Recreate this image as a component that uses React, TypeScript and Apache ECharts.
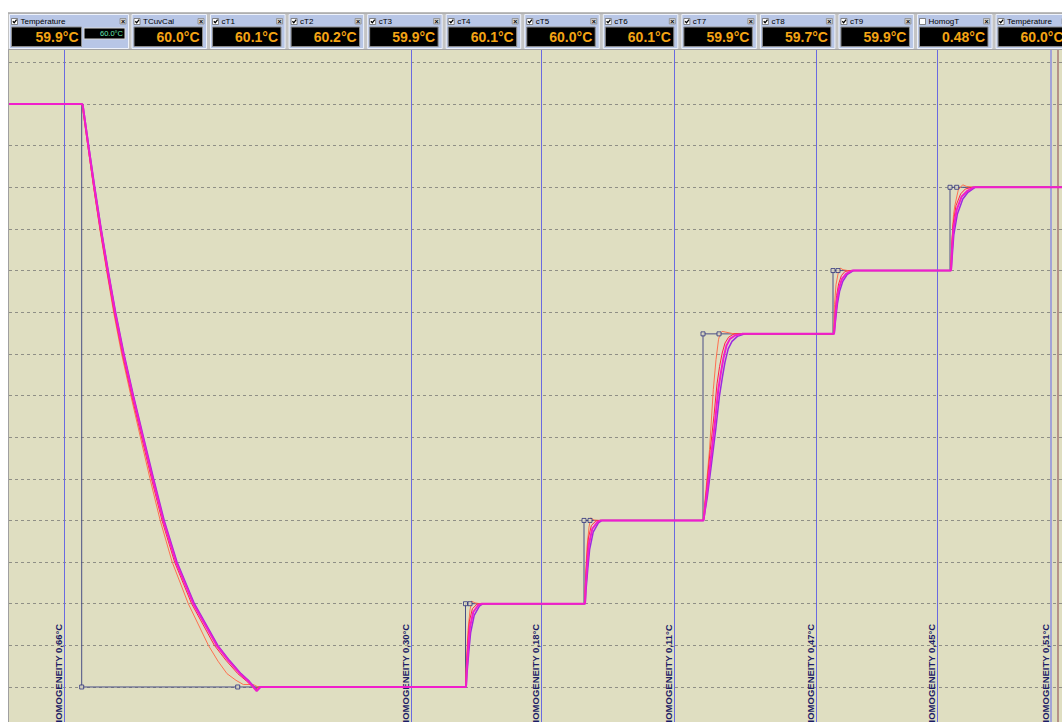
import React, { useEffect, useRef } from "react";
import * as echarts from "echarts";

const FONT = "Liberation Sans, Arial, sans-serif";

// Header panels
const panelNames = ["Température", "TCuvCal", "cT1", "cT2", "cT3", "cT4", "cT5", "cT6", "cT7", "cT8", "cT9", "HomogT", "Température"];
const panelValues = ["59.9°C", "60.0°C", "60.1°C", "60.2°C", "59.9°C", "60.1°C", "60.0°C", "60.1°C", "59.9°C", "59.7°C", "59.9°C", "0.48°C", "60.0°C"];
const panelChecked = [true, true, true, true, true, true, true, true, true, true, true, false, true];
const secondaryValue = "60.0°C";

// Time axis (minutes) and temperature axis (°C)
const xMin = 0;
const xMax = 526.5;
const yMin = -5;
const yMax = 80;
const yStep = 5;

// Homogeneity markers (time, label)
const homogTimes = [27.75, 201.25, 266.25, 332.75, 403.75, 464.25, 521];
const homogLabels = ["0,66", "0,30", "0,18", "0,11", "0,47", "0,45", "0,51"];
const cursorTime = 524.5;

// Setpoint profile
const setpoint: [number, number][] = [
  [0, 70], [36.35, 70], [36.35, 0], [114.35, 0], [228.25, 0], [228.25, 10], [230.5, 10],
  [287.5, 10], [287.5, 20], [290.5, 20], [347, 20], [347, 42.4], [355, 42.4], [412, 42.4],
  [412, 50], [414.5, 50], [470.5, 50], [470.5, 60], [473.85, 60], [526.5, 60],
];
const setpointMarks: [number, number][] = [
  [36.35, 0], [114.35, 0], [228.25, 10], [230.5, 10], [287.5, 20], [290.5, 20],
  [347, 42.4], [355, 42.4], [412, 50], [414.5, 50], [470.5, 60], [473.85, 60],
];

// Reference temperature (orange)
const temperature: [number, number][] = [
  [0, 70], [36.4, 70], [36.6, 69.8], [39.4, 65], [42.3, 60], [45.4, 55], [48.8, 50], [52.3, 45],
  [56.3, 40], [60.9, 35], [65.7, 30], [70.5, 25], [75.6, 20], [81.6, 15], [89.65, 10], [99.7, 5],
  [104.5, 3.1], [109.0, 1.6], [113.5, 0.8], [117.15, 0.3], [122.15, 0.3], [124.5, 0],
  [228.25, 0], [228.75, 3.2], [229.5, 6.8], [230.5, 9.25], [231.35, 10.3], [233, 10.1], [235.5, 10],
  [287.75, 10], [288.25, 13.2], [289, 16.8], [290, 19.2], [290.85, 20.3], [292.5, 20.05], [295, 20],
  [347, 20], [348.5, 23.7], [350.25, 28.5], [352.15, 35.7], [353.5, 39.3], [354.75, 41.7], [355.5, 42.4],
  [356.5, 42.7], [358.5, 42.6], [361.5, 42.45], [365.5, 42.4],
  [412.25, 42.4], [412.75, 45.9], [413.5, 48.3], [414.75, 49.9], [415.75, 50.3], [417, 50.1], [419.5, 50],
  [470.75, 50], [471.5, 53.7], [472.25, 56.7], [473, 57.9], [474.65, 59.7], [476.85, 60.3], [478.85, 60.1],
  [482, 60], [526.5, 60],
];

// cT1 (red)
const cT1: [number, number][] = [
  [0, 70], [36.5, 70], [36.7, 69.8], [39.4, 65], [42.35, 60], [45.5, 55], [48.95, 50], [52.6, 45],
  [56.7, 40], [61.35, 35], [66.3, 30], [71.25, 25], [76.5, 20], [82.8, 15], [91.3, 10], [102.7, 5],
  [108.5, 3.2], [114.4, 1.6], [118.8, 0.7], [123.2, -0.3], [125, 0],
  [228.4, 0], [228.7, 2.4], [229.4, 5.4], [230.2, 7.9], [231.7, 9.4], [234, 9.95], [236, 10],
  [287.9, 10], [288.2, 12.4], [288.9, 15.4], [289.7, 17.9], [291.2, 19.4], [293.5, 19.95], [295.5, 20],
  [347.2, 20], [348.8, 23.9], [350.6, 28.4], [352.5, 32.6], [354, 36.4], [355.3, 38.5], [356.6, 40.1],
  [358, 41.3], [359.8, 42.0], [362.5, 42.4],
  [412.4, 42.4], [413.1, 45.1], [413.8, 47], [414.8, 48.4], [416.2, 49.4], [418, 49.9], [421, 50],
  [470.9, 50], [471.4, 53], [472, 55.5], [473.5, 57.8], [475.8, 59.2], [478.2, 59.8], [481.5, 60], [526.5, 60],
];

// cT5 (magenta)
const cT5: [number, number][] = [
  [0, 70], [36.6, 70], [36.9, 69.8], [39.65, 65], [42.65, 60], [45.85, 55], [49.35, 50], [53.0, 45],
  [57.15, 40], [61.85, 35], [66.85, 30], [71.85, 25], [77.15, 20], [83.5, 15], [92.15, 10], [103.85, 5],
  [109.65, 3.2], [115.5, 1.6], [119.65, 0.7], [123.85, -0.5], [125.5, 0],
  [228.5, 0], [228.85, 2.0], [229.65, 4.8], [230.5, 7.2], [232.15, 9.0], [234.65, 9.85], [236.35, 10],
  [288, 10], [288.35, 12.0], [289.15, 14.8], [290, 17.2], [291.65, 19.0], [294.15, 19.8], [295.85, 20],
  [347.25, 20], [349, 23.4], [351, 27.6], [353, 31.8], [354.65, 35.7], [356, 37.8], [357.25, 39.5],
  [358.75, 41.0], [360.5, 41.8], [363, 42.2], [366.5, 42.4],
  [412.5, 42.4], [413.25, 44.7], [414, 46.5], [415, 47.9], [416.5, 49.0], [418.5, 49.6], [421.5, 50],
  [471, 50], [471.5, 52.5], [472.15, 54.9], [473.85, 57.3], [476.35, 58.9], [478.85, 59.5], [482.15, 60], [526.5, 60],
];

// cT9 (purple)
const cT9: [number, number][] = [
  [0, 70], [36.7, 70], [37.0, 69.8], [39.85, 65], [42.9, 60], [46.1, 55], [49.6, 50], [53.3, 45],
  [57.5, 40], [62.2, 35], [67.25, 30], [72.3, 25], [77.6, 20], [84.0, 15], [92.7, 10], [104.4, 5],
  [110.2, 3.2], [116.0, 1.6], [120.1, 0.7], [124.1, -0.4], [126, 0],
  [228.6, 0], [229, 1.6], [229.9, 4.2], [230.8, 6.5], [232.6, 8.6], [235.2, 9.7], [237, 10],
  [288.1, 10], [288.5, 11.6], [289.4, 14.2], [290.3, 16.5], [292.1, 18.6], [294.7, 19.7], [296.5, 20],
  [347.3, 20], [349.2, 22.9], [351.3, 26.9], [353.4, 31], [355.2, 34.9], [356.7, 37.2], [358, 39],
  [359.6, 40.6], [361.5, 41.5], [364.2, 42.1], [368, 42.4],
  [412.6, 42.4], [413.4, 44.3], [414.2, 46], [415.3, 47.5], [416.9, 48.7], [419, 49.5], [422.2, 50],
  [471.1, 50], [471.7, 52], [472.4, 54.3], [474.2, 56.8], [476.9, 58.6], [479.5, 59.4], [483, 60], [526.5, 60],
];

function buildHeader(): any[] {
  const g: any[] = [];
  const Z = 100;
  g.push({ type: "rect", z: Z, shape: { x: 8, y: 12.5, width: 1054, height: 37.5 }, style: { fill: "#c4c4c4" } });
  g.push({ type: "rect", z: Z, shape: { x: 8, y: 12.5, width: 1054, height: 1 }, style: { fill: "#9a9a9a" } });
  g.push({ type: "rect", z: Z, shape: { x: 8, y: 49, width: 1054, height: 1 }, style: { fill: "#a4a4a4" } });
  g.push({ type: "rect", z: Z, shape: { x: 8, y: 50, width: 1, height: 672 }, style: { fill: "#a0a0a0" } });
  panelNames.forEach((name, i) => {
    const x0 = i === 0 ? 9 : 131.5 + (i - 1) * 78.55;
    const w = i === 0 ? 120 : 75.5;
    const y0 = 14;
    g.push({ type: "rect", z: Z + 1, shape: { x: x0 + 0.5, y: y0 + 0.5, width: w - 1, height: 34 }, style: { fill: "#b8c6e6", stroke: "#eef2fb", lineWidth: 1 } });
    // checkbox
    g.push({ type: "rect", z: Z + 2, shape: { x: x0 + 2.5, y: y0 + 4.5, width: 6, height: 6 }, style: { fill: "#ffffff", stroke: "#6a6a6a", lineWidth: 0.8 } });
    if (panelChecked[i]) {
      g.push({ type: "polyline", z: Z + 3, shape: { points: [[x0 + 3.8, y0 + 7.2], [x0 + 5.2, y0 + 8.8], [x0 + 7.6, y0 + 5.6]] }, style: { stroke: "#000000", lineWidth: 1.3, fill: "none" } });
    }
    g.push({ type: "text", z: Z + 2, x: x0 + 11.5, y: y0 + 7.5, style: { text: name, fill: "#000000", fontSize: 8, fontFamily: FONT, align: "left", verticalAlign: "middle" } });
    // close button
    g.push({ type: "rect", z: Z + 2, shape: { x: x0 + w - 9, y: y0 + 4.5, width: 6, height: 5.5 }, style: { fill: "#d0d0d0", stroke: "#8a8a8a", lineWidth: 0.8 } });
    g.push({ type: "text", z: Z + 3, x: x0 + w - 6, y: y0 + 7.4, style: { text: "×", fill: "#000000", fontSize: 7, fontWeight: "bold", fontFamily: FONT, align: "center", verticalAlign: "middle" } });
    // display
    const dW = i === 0 ? 70 : w - 7;
    g.push({ type: "rect", z: Z + 2, shape: { x: x0 + 2.5, y: y0 + 13, width: dW, height: 19.5 }, style: { fill: "#000000", stroke: "#8c8c8c", lineWidth: 1 } });
    g.push({ type: "text", z: Z + 3, x: x0 + 2.5 + dW - 3, y: y0 + 23, style: { text: panelValues[i], fill: "#f4a414", fontSize: 14, fontWeight: "bold", fontFamily: FONT, align: "right", verticalAlign: "middle" } });
    if (i === 0) {
      g.push({ type: "rect", z: Z + 2, shape: { x: x0 + 75, y: y0 + 14, width: 41, height: 11 }, style: { fill: "#000000", stroke: "#d8d8d8", lineWidth: 1 } });
      g.push({ type: "text", z: Z + 3, x: x0 + 114, y: y0 + 19.6, style: { text: secondaryValue, fill: "#66e8b0", fontSize: 7.5, fontFamily: FONT, align: "right", verticalAlign: "middle" } });
    }
  });
  return g;
}

function line(name: string, data: [number, number][], color: string, width: number, z: number) {
  return {
    type: "line",
    name,
    data,
    symbol: "none",
    showSymbol: false,
    silent: true,
    z,
    lineStyle: { color, width },
    itemStyle: { color },
  };
}

export default function App() {
  const ref = useRef<HTMLDivElement>(null);
  useEffect(() => {
    const chart = echarts.init(ref.current!, null, { renderer: "svg" });
    const markData: any[] = homogTimes.map((t, i) => ({
      xAxis: t,
      lineStyle: i === homogTimes.length - 1 ? { color: "#a2a2d6", width: 2, type: "solid" } : { color: "#6a6ae0", width: 1, type: "solid" },
      label: { show: true, formatter: "HOMOGENEITY " + homogLabels[i] + "°C" },
    }));
    markData.push({ xAxis: cursorTime, lineStyle: { color: "#b49288", width: 2, type: "solid" }, label: { show: false } });

    const option: any = {
      animation: false,
      backgroundColor: "#ffffff",
      grid: {
        left: 9, width: 1053, top: 20.71, height: 707.93,
        show: true, backgroundColor: "#dfdec1", borderWidth: 0,
        containLabel: false, outerBoundsMode: "none",
      },
      xAxis: { type: "value", min: xMin, max: xMax, show: false, splitLine: { show: false } },
      yAxis: {
        type: "value", min: yMin, max: yMax, interval: yStep,
        axisLine: { show: false }, axisTick: { show: false }, axisLabel: { show: false },
        splitLine: { show: true, lineStyle: { color: "#8f8f86", width: 1, type: [3, 3] } },
      },
      tooltip: { show: false },
      legend: { show: false },
      graphic: buildHeader(),
      series: [
        {
          type: "line",
          name: "Consigne",
          data: setpoint,
          symbol: "none",
          silent: true,
          z: 2,
          lineStyle: { color: "#4a4f86", width: 1 },
          markLine: {
            silent: true,
            symbol: ["none", "none"],
            animation: false,
            label: { position: "insideStartTop", color: "#1c1c66", fontWeight: "bold", fontSize: 9.5, fontFamily: FONT, distance: [2, 1] },
            data: markData,
          },
        },
        line("Température", temperature, "#ff7050", 1, 3),
        line("cT9", cT9, "#9a2ae0", 1.5, 4),
        line("cT1", cT1, "#ff2244", 1, 5),
        line("cT5", cT5, "#f01ecc", 2, 6),
        {
          type: "scatter",
          name: "Consigne points",
          data: setpointMarks,
          symbol: "rect",
          symbolSize: 4,
          silent: true,
          z: 8,
          itemStyle: { color: "#e2e0c6", borderColor: "#2c2f7c", borderWidth: 1 },
        },
      ],
    };
    chart.setOption(option);
    return () => chart.dispose();
  }, []);
  return <div ref={ref} style={{ position: "absolute", left: 0, top: 0, width: 1062, height: 722 }} />;
}
